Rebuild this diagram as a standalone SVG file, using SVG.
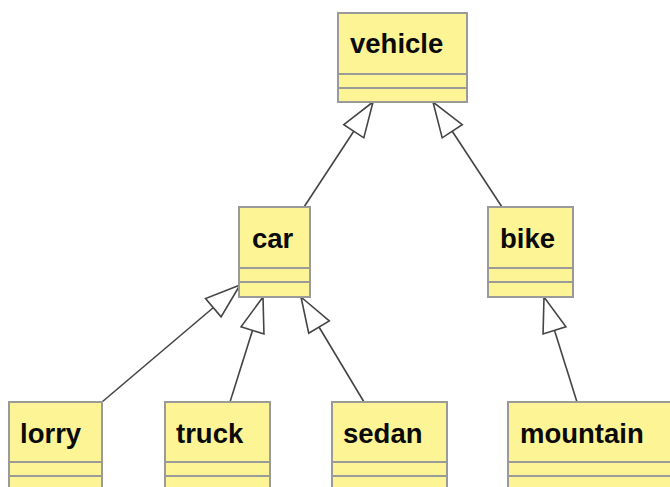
<svg xmlns="http://www.w3.org/2000/svg" width="670" height="487" viewBox="0 0 670 487">
<style>
.box{fill:#fdf495;stroke:#9a9a9a;stroke-width:2}
.div{stroke:#9a9a9a;stroke-width:2}
.lbl{font-family:"Liberation Sans",Arial,sans-serif;font-weight:bold;font-size:27.5px;fill:#0a0a0a}
.edge{stroke:#444;stroke-width:1.6;fill:none}
</style>
<defs>
<marker id="inh" viewBox="-38 -14 40 28" markerWidth="40" markerHeight="28" refX="0" refY="0" orient="auto" markerUnits="userSpaceOnUse">
<path d="M0,0 L-35,-12 L-35,12 Z" fill="#fff" stroke="#444" stroke-width="1.6" stroke-linejoin="miter"/>
</marker>
</defs>
<rect width="670" height="487" fill="#fff"/>
<g id="connectors">
<line class="edge" x1="304" y1="207" x2="373" y2="102" marker-end="url(#inh)"/>
<line class="edge" x1="502" y1="207" x2="433" y2="102" marker-end="url(#inh)"/>
<line class="edge" x1="102" y1="402" x2="240" y2="285" marker-end="url(#inh)"/>
<line class="edge" x1="230" y1="402" x2="263" y2="297" marker-end="url(#inh)"/>
<line class="edge" x1="364" y1="402" x2="301" y2="297" marker-end="url(#inh)"/>
<line class="edge" x1="577" y1="402" x2="544" y2="297" marker-end="url(#inh)"/>
</g>
<g id="vehicle">
<rect class="box" x="338" y="13" width="129" height="89"/>
<line class="div" x1="338" y1="74" x2="467" y2="74"/>
<line class="div" x1="338" y1="88" x2="467" y2="88"/>
<text class="lbl" x="350" y="53">vehicle</text>
</g>
<g id="car">
<rect class="box" x="239" y="207" width="71" height="90"/>
<line class="div" x1="239" y1="268" x2="310" y2="268"/>
<line class="div" x1="239" y1="282" x2="310" y2="282"/>
<text class="lbl" x="252" y="248">car</text>
</g>
<g id="bike">
<rect class="box" x="488" y="207" width="85" height="90"/>
<line class="div" x1="488" y1="268" x2="573" y2="268"/>
<line class="div" x1="488" y1="282" x2="573" y2="282"/>
<text class="lbl" x="500" y="248">bike</text>
</g>
<g id="lorry">
<rect class="box" x="9" y="402" width="93" height="95"/>
<line class="div" x1="9" y1="462" x2="102" y2="462"/>
<line class="div" x1="9" y1="476" x2="102" y2="476"/>
<text class="lbl" x="20" y="443">lorry</text>
</g>
<g id="truck">
<rect class="box" x="165" y="402" width="105" height="95"/>
<line class="div" x1="165" y1="462" x2="270" y2="462"/>
<line class="div" x1="165" y1="476" x2="270" y2="476"/>
<text class="lbl" x="176" y="443">truck</text>
</g>
<g id="sedan">
<rect class="box" x="332" y="402" width="115" height="95"/>
<line class="div" x1="332" y1="462" x2="447" y2="462"/>
<line class="div" x1="332" y1="476" x2="447" y2="476"/>
<text class="lbl" x="343" y="443">sedan</text>
</g>
<g id="mountain">
<rect class="box" x="508" y="402" width="170" height="95"/>
<line class="div" x1="508" y1="462" x2="678" y2="462"/>
<line class="div" x1="508" y1="476" x2="678" y2="476"/>
<text class="lbl" x="520" y="443">mountain</text>
</g>
</svg>
